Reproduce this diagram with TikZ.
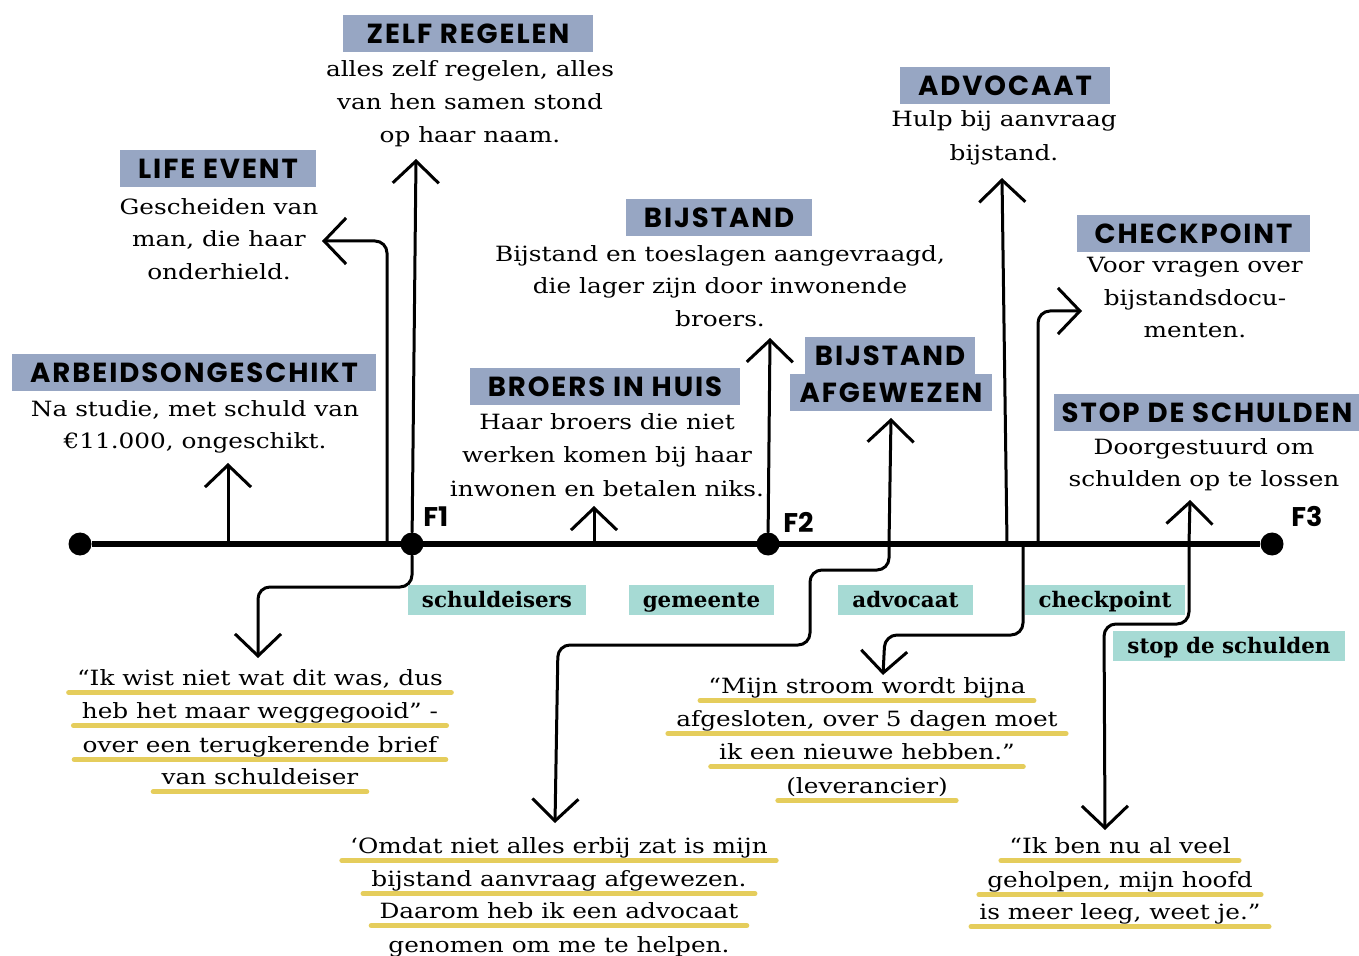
\documentclass[tikz,border=0pt]{standalone}
\usepackage{fontspec}
\setmainfont{DejaVu Serif}
\newfontfamily\bodyfont[FakeStretch=1.18]{DejaVu Serif}
\newfontfamily\titlefont[LetterSpace=7]{Poppins}
\newfontfamily\flabfont{Poppins}
\usepackage{tikz}
\usetikzlibrary{arrows.meta,backgrounds}
\definecolor{titlebg}{HTML}{97A6C3}
\definecolor{tagbg}{HTML}{A6DAD4}
\definecolor{hilite}{HTML}{E5CD5C}
\newcommand\hlline[1]{\draw[hl] ([xshift=-4pt,yshift=-3.8pt]#1.base west) -- ([xshift=4pt,yshift=-3.8pt]#1.base east);}

\begin{document}
\begin{tikzpicture}[x=0.5pt,y=-0.5pt,
  title/.style={fill=titlebg,font=\titlefont\bfseries\fontsize{13.8}{17}\selectfont,text height=9.7pt,text depth=0pt,inner xsep=9pt,inner ysep=4.4pt},
  body/.style={font=\bodyfont\fontsize{10.5}{16}\selectfont,anchor=base,inner sep=0pt},
  tag/.style={fill=tagbg,font=\setmainfont{DejaVu Serif}\bfseries\fontsize{10.7}{13}\selectfont,text height=9pt,text depth=2pt,inner xsep=7pt,inner ysep=2pt,minimum height=15pt},
  hl/.style={draw=hilite,line width=2.5pt,line cap=round},
  arr/.style={-{Straight Barb[length=11pt,width=23pt]},line width=1.5pt,line cap=round,line join=round,rounded corners=6pt},
  dot/.style={circle,fill=black,inner sep=0pt,minimum size=11.5pt},
  flab/.style={font=\flabfont\bfseries\fontsize{13.5}{16}\selectfont,anchor=base west,inner sep=0pt},
  axisline/.style={line width=3.2pt}]
\useasboundingbox (0,0) rectangle (1359,956);

\node[dot] (st) at (80,544) {};
\node[dot] (f1) at (412,544) {};
\node[dot] (f2) at (768,544) {};
\node[dot] (f3) at (1272,544) {};
\draw[axisline] (st) -- (f3);
\node[flab] (f1lab) at (423,527) {F1};
\node[flab] (f2lab) at (783,532) {F2};
\node[flab] (f3lab) at (1291,527) {F3};

\coordinate (axArb) at (228,544);
\coordinate (axLife) at (387,544);
\coordinate (axBro) at (594,544);
\coordinate (axAfg) at (889,544);
\coordinate (axAdv) at (1007,544);
\coordinate (axQ3) at (1023,544);
\coordinate (axChk) at (1038,544);
\coordinate (axStop) at (1189,544);
\coordinate (tArb) at (228,463);
\coordinate (tLife) at (322,241);
\coordinate (tZelf) at (416,159);
\coordinate (tQ1) at (258,658);
\coordinate (tBro) at (594,506);
\coordinate (tBij) at (770,338);
\coordinate (tAfg) at (891,418);
\coordinate (tQ2) at (555,823);
\coordinate (tAdv) at (1002,178);
\coordinate (tChk) at (1082,311);
\coordinate (tQ3) at (883,675);
\coordinate (tStop) at (1190,500);
\coordinate (tQ4) at (1105,830);
\coordinate (cQ1) at (258,587);
\coordinate (cQ2a) at (810,570);
\coordinate (cQ2b) at (558,645);
\coordinate (cQ3) at (885,635);
\coordinate (cQ4) at (1104,624);

\draw[arr] (axArb) -- (tArb);
\draw[arr] (axLife) |- (tLife);
\draw[arr] (f1) -- (tZelf);
\draw[arr] (f1) |- (cQ1) -- (tQ1);
\draw[arr] (axBro) -- (tBro);
\draw[arr] (f2) -- (tBij);
\draw[arr] (axAfg) -- (tAfg);
\draw[arr] (axAfg) |- (cQ2a) |- (cQ2b) -- (tQ2);
\draw[arr] (axAdv) -- (tAdv);
\draw[arr] (axChk) |- (tChk);
\draw[arr] (axQ3) |- (cQ3) -- (tQ3);
\draw[arr] (axStop) -- (tStop);
\draw[arr] (axStop) |- (cQ4) -- (tQ4);

\node[title,inner xsep=12pt] (zelfT) at (468,33.5) {ZELF REGELEN};
\node[body] (zelfA) at (470,77) {alles zelf regelen, alles};
\node[body] (zelfB) at (470,110) {van hen samen stond};
\node[body] (zelfC) at (470,143) {op haar naam.};

\node[title] (lifeT) at (218,169) {LIFE EVENT};
\node[body] (lifeA) at (219,215) {Gescheiden van};
\node[body] (lifeB) at (219,247) {man, die haar};
\node[body] (lifeC) at (219,280) {onderhield.};

\node[title] (arbT) at (194,372.5) {ARBEIDSONGESCHIKT};
\node[body] (arbA) at (195,417) {Na studie, met schuld van};
\node[body] (arbB) at (195,449) {€11.000, ongeschikt.};

\node[title] (broT) at (605,386.5) {BROERS IN HUIS};
\node[body] (broA) at (607,430) {Haar broers die niet};
\node[body] (broB) at (607,463) {werken komen bij haar};
\node[body] (broC) at (607,496) {inwonen en betalen niks.};

\node[title] (bijT) at (719,217.5) {BIJSTAND};
\node[body] (bijA) at (720,262) {Bijstand en toeslagen aangevraagd,};
\node[body] (bijB) at (720,294) {die lager zijn door inwonende};
\node[body] (bijC) at (720,327) {broers.};

\node[title,inner xsep=5pt] (afgT) at (890,355.5) {BIJSTAND};
\node[title,inner xsep=5pt] (afgU) at (891,393) {AFGEWEZEN};

\node[title] (advT) at (1005,86) {ADVOCAAT};
\node[body] (advA) at (1004,127) {Hulp bij aanvraag};
\node[body] (advB) at (1004,161) {bijstand.};

\node[title] (chkT) at (1193.5,233.5) {CHECKPOINT};
\node[body] (chkA) at (1195,273) {Voor vragen over};
\node[body] (chkB) at (1195,306) {bijstandsdocu-};
\node[body] (chkC) at (1195,338) {menten.};

\node[title,inner xsep=4pt] (stopT) at (1207,412.5) {STOP DE SCHULDEN};
\node[body] (stopA) at (1204,455) {Doorgestuurd om};
\node[body] (stopB) at (1204,487) {schulden op te lossen};

\node[tag] (tagSchuld) at (497,600) {schuldeisers};
\node[tag] (tagGem) at (701.5,600) {gemeente};
\node[tag] (tagAdv) at (905.5,600) {advocaat};
\node[tag] (tagChk) at (1105,600) {checkpoint};
\node[tag] (tagStop) at (1229,646) {stop de schulden};

\node[body] (qaA) at (260,685) {“Ik wist niet wat dit was, dus};
\node[body] (qaB) at (260,718) {heb het maar weggegooid” -};
\node[body] (qaC) at (260,752) {over een terugkerende brief};
\node[body] (qaD) at (260,784) {van schuldeiser};

\node[body] (qbA) at (559,853) {‘Omdat niet alles erbij zat is mijn};
\node[body] (qbB) at (559,886) {bijstand aanvraag afgewezen.};
\node[body] (qbC) at (559,918) {Daarom heb ik een advocaat};
\node[body] (qbD) at (559,952) {genomen om me te helpen.};

\node[body] (qcA) at (867,693) {“Mijn stroom wordt bijna};
\node[body] (qcB) at (867,726) {afgesloten, over 5 dagen moet};
\node[body] (qcC) at (867,759) {ik een nieuwe hebben.”};
\node[body] (qcD) at (867,793) {(leverancier)};

\node[body] (qdA) at (1120,853) {“Ik ben nu al veel};
\node[body] (qdB) at (1120,887) {geholpen, mijn hoofd};
\node[body] (qdC) at (1120,919) {is meer leeg, weet je.”};

\begin{scope}[on background layer]
\hlline{qaA} \hlline{qaB} \hlline{qaC} \hlline{qaD}
\hlline{qbA} \hlline{qbB} \hlline{qbC}
\hlline{qcA} \hlline{qcB} \hlline{qcC} \hlline{qcD}
\hlline{qdA} \hlline{qdB} \hlline{qdC}
\end{scope}
\end{tikzpicture}
\end{document}
